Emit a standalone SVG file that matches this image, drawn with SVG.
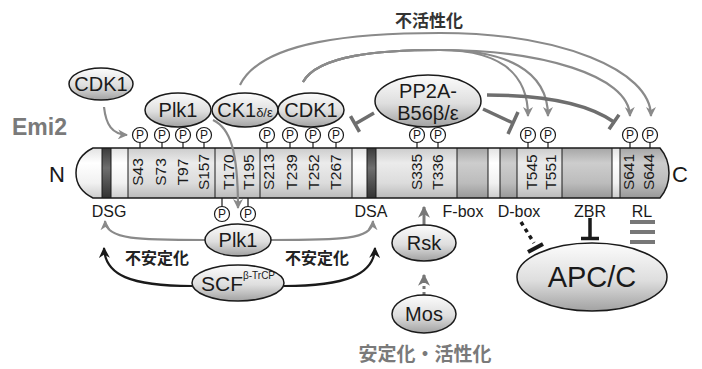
<svg xmlns="http://www.w3.org/2000/svg" width="702" height="369" viewBox="0 0 702 369">
<defs>
<linearGradient id="gNode" x1="0" y1="0" x2="0" y2="1">
<stop offset="0" stop-color="#fcfcfc"/><stop offset="0.55" stop-color="#dedede"/><stop offset="1" stop-color="#a2a2a2"/>
</linearGradient>
<linearGradient id="gWhite" x1="0" y1="0" x2="0" y2="1">
<stop offset="0" stop-color="#e2e2e2"/><stop offset="0.3" stop-color="#ffffff"/><stop offset="0.7" stop-color="#f1f1f1"/><stop offset="1" stop-color="#cdcdcd"/>
</linearGradient>
<linearGradient id="gLight" x1="0" y1="0" x2="0" y2="1">
<stop offset="0" stop-color="#cccccc"/><stop offset="0.3" stop-color="#ebebeb"/><stop offset="0.7" stop-color="#dcdcdc"/><stop offset="1" stop-color="#bababa"/>
</linearGradient>
<linearGradient id="gMid" x1="0" y1="0" x2="0" y2="1">
<stop offset="0" stop-color="#a6a6a6"/><stop offset="0.3" stop-color="#cdcdcd"/><stop offset="0.7" stop-color="#bcbcbc"/><stop offset="1" stop-color="#989898"/>
</linearGradient>
<linearGradient id="gDark" x1="0" y1="0" x2="0" y2="1">
<stop offset="0" stop-color="#3a3a3a"/><stop offset="0.4" stop-color="#6e6e6e"/><stop offset="1" stop-color="#333"/>
</linearGradient>
<clipPath id="barClip">
<path d="M93,148 H660 C666,155 669,164 669,173 C669,182 666,191 660,198 H93 C81,192 76,183 76,173 C76,163 81,154 93,148 Z"/>
</clipPath>
<marker id="aGray" viewBox="0 0 10 10" refX="9" refY="5" markerWidth="10" markerHeight="10" markerUnits="userSpaceOnUse" orient="auto">
<path d="M0,0 L10,5 L0,10 L3,5 Z" fill="#8a8a8a"/>
</marker>
<marker id="aGrayBig" viewBox="0 0 10 10" refX="9" refY="5" markerWidth="12" markerHeight="12" markerUnits="userSpaceOnUse" orient="auto">
<path d="M0,0 L10,5 L0,10 L3,5 Z" fill="#777"/>
</marker>
<marker id="aBlack" viewBox="0 0 10 10" refX="9" refY="5" markerWidth="11" markerHeight="11" markerUnits="userSpaceOnUse" orient="auto">
<path d="M0,0 L10,5 L0,10 L3,5 Z" fill="#1a1a1a"/>
</marker>
<style>
text{font-family:"Liberation Sans",Arial,"Noto Sans CJK JP",sans-serif;fill:#1a1a1a}
.jp{font-family:"Noto Sans CJK JP","Liberation Sans",sans-serif;font-weight:bold}
.node{fill:url(#gNode);stroke:#1a1a1a;stroke-width:1.5}
.lbl{font-size:20px;text-anchor:middle}
.site{font-size:15.5px;text-anchor:middle}
.dom{font-size:16px;text-anchor:middle}
.pc{fill:#fff;stroke:#1a1a1a;stroke-width:1.2}
.pt{font-size:12px;text-anchor:middle}
.stem{stroke:#1a1a1a;stroke-width:1.2}
.div{stroke:#1a1a1a;stroke-width:1}
.gline{fill:none;stroke:#8a8a8a;stroke-width:2.2;marker-end:url(#aGray)}
.inh{fill:none;stroke:#6e6e6e;stroke-width:3.5}
.blk{fill:none;stroke:#1a1a1a;stroke-width:2.2;marker-end:url(#aBlack)}
</style>
</defs>
<rect width="702" height="369" fill="#fff"/>

<!-- protein bar -->
<g id="emi2-bar">
<g clip-path="url(#barClip)">
<rect x="70" y="148" width="32" height="50" fill="url(#gWhite)"/>
<rect x="102" y="148" width="9" height="50" fill="url(#gDark)"/>
<rect x="111" y="148" width="17" height="50" fill="url(#gWhite)"/>
<rect x="128" y="148" width="224" height="50" fill="url(#gLight)"/>
<rect x="352" y="148" width="15" height="50" fill="url(#gWhite)"/>
<rect x="367" y="148" width="9" height="50" fill="url(#gDark)"/>
<rect x="376" y="148" width="81" height="50" fill="url(#gLight)"/>
<rect x="457" y="148" width="31" height="50" fill="url(#gMid)"/>
<rect x="488" y="148" width="12" height="50" fill="url(#gWhite)"/>
<rect x="500" y="148" width="17" height="50" fill="url(#gMid)"/>
<rect x="517" y="148" width="45" height="50" fill="url(#gLight)"/>
<rect x="562" y="148" width="50" height="50" fill="url(#gMid)"/>
<rect x="612" y="148" width="8" height="50" fill="url(#gWhite)"/>
<rect x="620" y="148" width="52" height="50" fill="url(#gMid)"/>
</g>
<g class="div">
<line x1="102" y1="148" x2="102" y2="198"/><line x1="111" y1="148" x2="111" y2="198"/>
<line x1="128" y1="148" x2="128" y2="198"/><line x1="215" y1="148" x2="215" y2="198"/>
<line x1="260" y1="148" x2="260" y2="198"/><line x1="352" y1="148" x2="352" y2="198"/>
<line x1="367" y1="148" x2="367" y2="198"/><line x1="376" y1="148" x2="376" y2="198"/>
<line x1="457" y1="148" x2="457" y2="198"/><line x1="488" y1="148" x2="488" y2="198"/>
<line x1="500" y1="148" x2="500" y2="198"/><line x1="517" y1="148" x2="517" y2="198"/>
<line x1="562" y1="148" x2="562" y2="198"/><line x1="612" y1="148" x2="612" y2="198"/>
<line x1="620" y1="148" x2="620" y2="198"/>
</g>
<path d="M93,148 H660 C666,155 669,164 669,173 C669,182 666,191 660,198 H93 C81,192 76,183 76,173 C76,163 81,154 93,148 Z" fill="none" stroke="#1a1a1a" stroke-width="1.5"/>
<g class="site">
<text transform="translate(142.5,172) rotate(-90)">S43</text>
<text transform="translate(165.5,172) rotate(-90)">S73</text>
<text transform="translate(187.5,172) rotate(-90)">T97</text>
<text transform="translate(208.5,172) rotate(-90)">S157</text>
<text transform="translate(233.5,172) rotate(-90)">T170</text>
<text transform="translate(253.5,172) rotate(-90)">T195</text>
<text transform="translate(273.5,172) rotate(-90)">S213</text>
<text transform="translate(296.5,172) rotate(-90)">T239</text>
<text transform="translate(318.5,172) rotate(-90)">T252</text>
<text transform="translate(340.5,172) rotate(-90)">T267</text>
<text transform="translate(421.5,172) rotate(-90)">S335</text>
<text transform="translate(442.5,172) rotate(-90)">T336</text>
<text transform="translate(536.5,172) rotate(-90)">T545</text>
<text transform="translate(555.5,172) rotate(-90)">T551</text>
<text transform="translate(633.5,172) rotate(-90)">S641</text>
<text transform="translate(653.5,172) rotate(-90)">S644</text>
</g>
<text x="49" y="182" font-size="22">N</text>
<text x="672" y="182" font-size="22">C</text>
<text x="12" y="135" font-size="23" font-weight="bold" style="fill:#7a7a7a">Emi2</text>
<g class="dom">
<text x="109" y="217">DSG</text>
<text x="371" y="217">DSA</text>
<text x="463" y="217">F-box</text>
<text x="519" y="217">D-box</text>
<text x="590" y="217">ZBR</text>
<text x="642" y="217">RL</text>
</g>
</g>

<!-- phospho sites -->
<g id="phospho">
<g class="stem">
<line x1="140" y1="142" x2="140" y2="148"/><line x1="162" y1="142" x2="162" y2="148"/>
<line x1="183" y1="142" x2="183" y2="148"/><line x1="204" y1="142" x2="204" y2="148"/>
<line x1="267" y1="142" x2="267" y2="148"/><line x1="290" y1="142" x2="290" y2="148"/>
<line x1="313" y1="142" x2="313" y2="148"/><line x1="336" y1="142" x2="336" y2="148"/>
<line x1="417" y1="142" x2="417" y2="148"/><line x1="438" y1="142" x2="438" y2="148"/>
<line x1="528" y1="142" x2="528" y2="148"/><line x1="548" y1="142" x2="548" y2="148"/>
<line x1="630" y1="142" x2="630" y2="148"/><line x1="650" y1="142" x2="650" y2="148"/>
<line x1="222" y1="198" x2="222" y2="207"/><line x1="248" y1="198" x2="248" y2="207"/>
</g>
<g>
<circle class="pc" cx="140" cy="135" r="7.5"/><circle class="pc" cx="162" cy="135" r="7.5"/>
<circle class="pc" cx="183" cy="135" r="7.5"/><circle class="pc" cx="204" cy="135" r="7.5"/>
<circle class="pc" cx="267" cy="135" r="7.5"/><circle class="pc" cx="290" cy="135" r="7.5"/>
<circle class="pc" cx="313" cy="135" r="7.5"/><circle class="pc" cx="336" cy="135" r="7.5"/>
<circle class="pc" cx="417" cy="135" r="7.5"/><circle class="pc" cx="438" cy="135" r="7.5"/>
<circle class="pc" cx="528" cy="135" r="7.5"/><circle class="pc" cx="548" cy="135" r="7.5"/>
<circle class="pc" cx="630" cy="135" r="7.5"/><circle class="pc" cx="650" cy="135" r="7.5"/>
<circle class="pc" cx="222" cy="214" r="7.5"/><circle class="pc" cx="248" cy="214" r="7.5"/>
</g>
<g class="pt">
<text x="140" y="139.3">P</text><text x="162" y="139.3">P</text><text x="183" y="139.3">P</text><text x="204" y="139.3">P</text>
<text x="267" y="139.3">P</text><text x="290" y="139.3">P</text><text x="313" y="139.3">P</text><text x="336" y="139.3">P</text>
<text x="417" y="139.3">P</text><text x="438" y="139.3">P</text><text x="528" y="139.3">P</text><text x="548" y="139.3">P</text>
<text x="630" y="139.3">P</text><text x="650" y="139.3">P</text>
<text x="222" y="218.3">P</text><text x="248" y="218.3">P</text>
</g>
</g>

<!-- connectors -->
<g id="connectors">
<path class="gline" d="M240,85 C262,40 360,33 440,33 C560,33 651,70 651,116"/>
<path class="gline" d="M303,82 C318,55 380,50 440,50 C495,50 528,70 528,116"/>
<path class="gline" d="M303,82 C318,55 380,50 440,50 C505,50 548,70 548,116"/>
<path class="gline" d="M303,82 C318,55 380,50 440,50 C540,50 629,75 630,116"/>
<path class="gline" d="M104,107 C106,125 112,134 127,135"/>
<path class="gline" d="M213,120 C230,128 238,150 238,208"/>
<path class="gline" d="M205,240 C140,240 106,240 105,221"/>
<path class="gline" d="M271,240 C340,240 372,240 373,221"/>
<path class="blk" d="M192,286 C130,286 105,275 104,248"/>
<path class="blk" d="M284,286 C345,286 374,275 375,248"/>
<line x1="424" y1="225" x2="424" y2="207" stroke="#777" stroke-width="3" marker-end="url(#aGrayBig)"/>
<line x1="424" y1="295" x2="424" y2="275" stroke="#777" stroke-width="3" stroke-dasharray="3,3" marker-end="url(#aGrayBig)"/>
<path class="inh" d="M374,113 L355,124 M350.5,116.2 L359.5,131.8"/>
<path class="inh" d="M483,109 L513,123 M518,112 L508,134"/>
<path class="inh" d="M487,95 C550,95 590,105 614,122 M619,114.7 L609,129.3"/>
<path d="M521,222 L534,243" fill="none" stroke="#1a1a1a" stroke-width="3.5" stroke-dasharray="4,4"/>
<path d="M528,252 L543,244" fill="none" stroke="#1a1a1a" stroke-width="4"/>
<path d="M590,218 V237 M581,238.5 H599" fill="none" stroke="#1a1a1a" stroke-width="3.5"/>
<path d="M630,222 H655 M630,232 H655 M630,242 H655" fill="none" stroke="#777" stroke-width="4"/>
</g>

<!-- nodes -->
<g id="cdk1-a"><ellipse class="node" cx="101" cy="84" rx="32" ry="16"/><text class="lbl" x="101" y="91">CDK1</text></g>
<g id="plk1-a"><ellipse class="node" cx="178" cy="110" rx="33" ry="17"/><text class="lbl" x="178" y="117">Plk1</text></g>
<g id="ck1"><ellipse class="node" cx="245" cy="110" rx="33" ry="17"/><text x="245" y="117" text-anchor="middle" font-size="20">CK1<tspan font-size="13">δ/ε</tspan></text></g>
<g id="cdk1-b"><ellipse class="node" cx="311" cy="110" rx="33" ry="17"/><text class="lbl" x="311" y="117">CDK1</text></g>
<g id="pp2a"><ellipse class="node" cx="428" cy="101" rx="53" ry="26"/><text class="lbl" x="428" y="98">PP2A-</text><text class="lbl" x="428" y="120">B56β/ε</text></g>
<g id="plk1-b"><ellipse class="node" cx="238" cy="240" rx="33" ry="16"/><text class="lbl" x="238" y="247">Plk1</text></g>
<g id="scf"><ellipse class="node" cx="238" cy="283" rx="46" ry="18"/><text x="201" y="291" font-size="21">SCF<tspan font-size="10" dy="-12">β-TrCP</tspan></text></g>
<g id="rsk"><ellipse class="node" cx="424" cy="243" rx="32" ry="18"/><text class="lbl" x="424" y="250">Rsk</text></g>
<g id="mos"><ellipse class="node" cx="424" cy="314" rx="32" ry="19"/><text class="lbl" x="424" y="321">Mos</text></g>
<g id="apcc"><ellipse class="node" cx="592" cy="277" rx="75" ry="34"/><text x="592" y="287" text-anchor="middle" font-size="29">APC/C</text></g>

<!-- free labels -->
<g id="labels">
<text class="jp" x="429" y="27" text-anchor="middle" font-size="17" style="fill:#333">不活性化</text>
<text class="jp" x="157" y="264" text-anchor="middle" font-size="16" style="fill:#222">不安定化</text>
<text class="jp" x="317" y="264" text-anchor="middle" font-size="16" style="fill:#222">不安定化</text>
<text class="jp" x="425" y="361" text-anchor="middle" font-size="19" style="fill:#7a7a7a">安定化・活性化</text>
</g>
</svg>
